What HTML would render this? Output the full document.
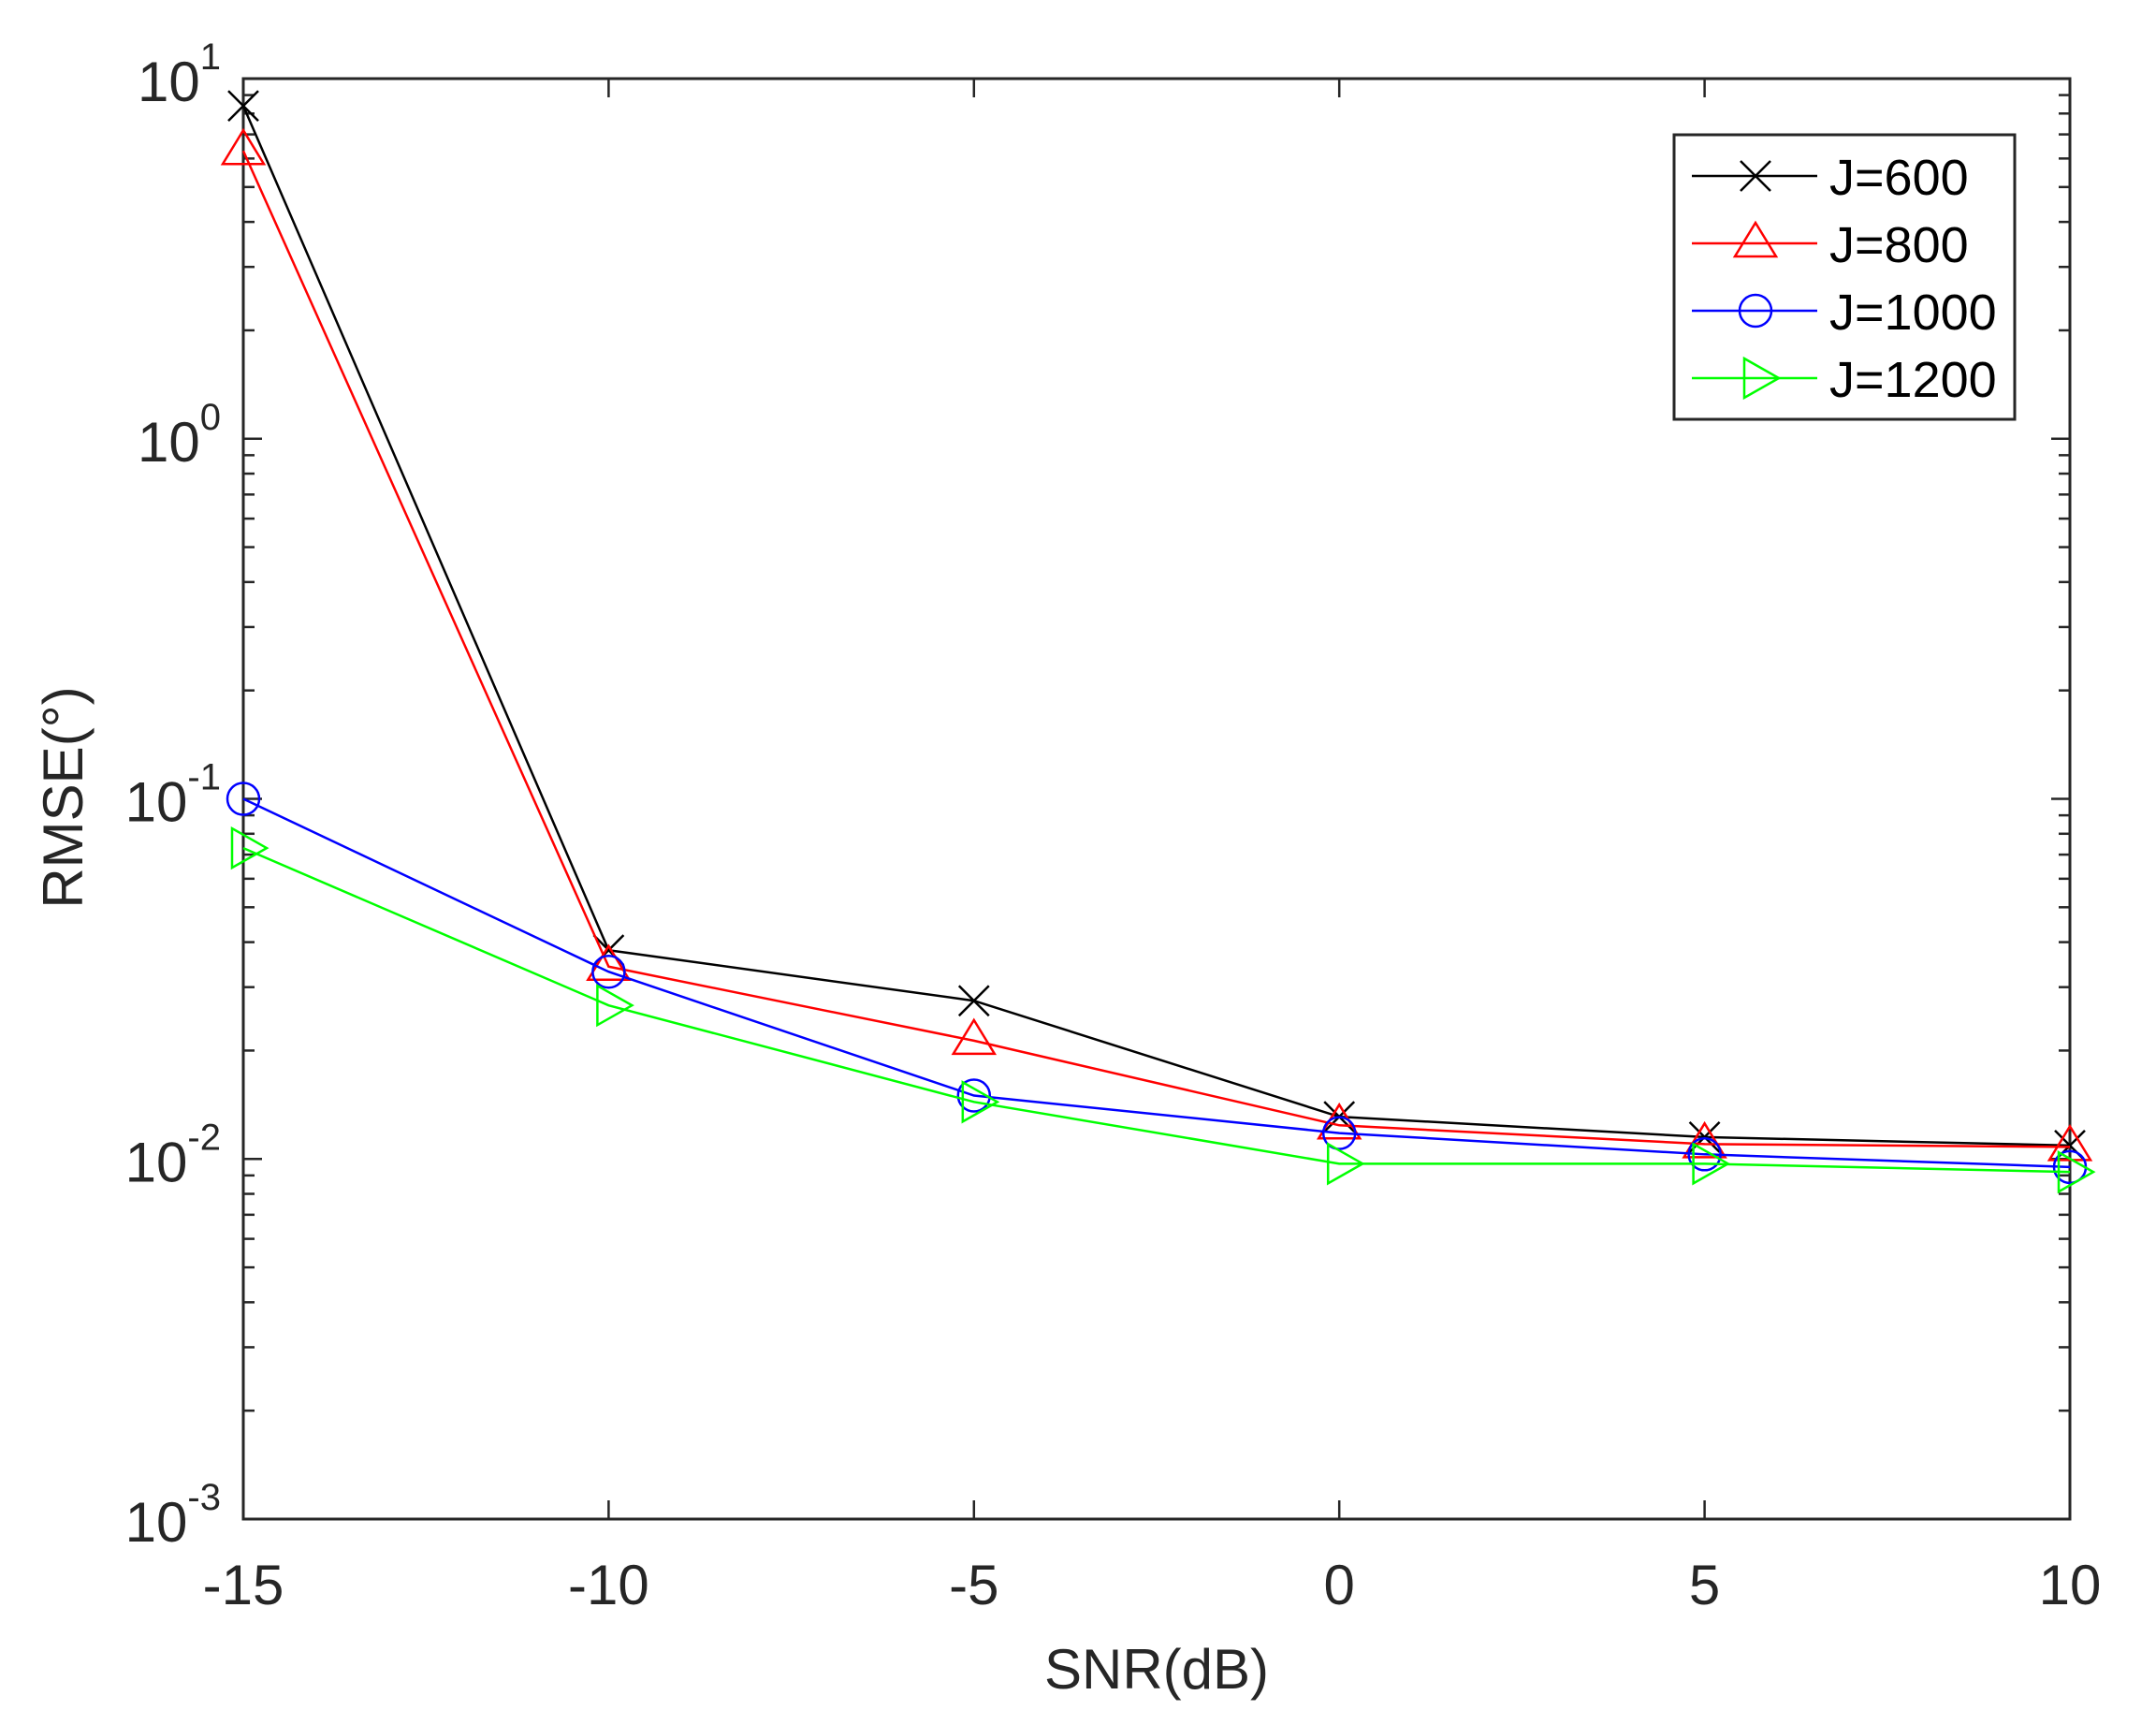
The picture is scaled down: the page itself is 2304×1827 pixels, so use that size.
<!DOCTYPE html>
<html><head><meta charset="utf-8"><style>
html,body{margin:0;padding:0;background:#fff;}
svg{display:block;font-family:"Liberation Sans",Arial,sans-serif;}
</style></head><body>
<svg id="chart" width="2304" height="1827" viewBox="0 0 2304 1827">
<rect width="2304" height="1827" fill="#fff"/>
<g id="axes"></g><g id="series"></g><g id="legend"></g>
</svg>
<script>
const categories = [-15, -10, -5, 0, 5, 10];
const seriesNames = ["J=600", "J=800", "J=1000", "J=1200"];
const j600 = [8.4, 0.038, 0.0275, 0.0131, 0.0115, 0.0109];
const j800 = [6.3, 0.0342, 0.0213, 0.0124, 0.011, 0.0108];
const j1000 = [0.1, 0.0331, 0.015, 0.0118, 0.0103, 0.0095];
const j1200 = [0.073, 0.0267, 0.0144, 0.0097, 0.0097, 0.0092];
const xTicks = [-15, -10, -5, 0, 5, 10];
const yTickExps = [1, 0, -1, -2, -3];

const NS = "http://www.w3.org/2000/svg";
const L = 260, R = 2212, T = 84, B = 1623;
const xMin = -15, xMax = 10, yMinE = -3, yMaxE = 1;
function xs(v){ return L + (v - xMin) / (xMax - xMin) * (R - L); }
function ys(v){ return T + (yMaxE - Math.log10(v)) / (yMaxE - yMinE) * (B - T); }
function el(tag, attrs, parent){ const e = document.createElementNS(NS, tag); for (const k in attrs) e.setAttribute(k, attrs[k]); parent.appendChild(e); return e; }
const axes = document.getElementById("axes");
const AX = "#262626";
for (let e = yMinE; e < yMaxE; e++) {
  for (let m = 2; m <= 9; m++) {
    const y = ys(m * Math.pow(10, e));
    const t1 = el("line", {x1: L, x2: L + 12, y1: y, y2: y, stroke: AX, "stroke-width": 2.5}, axes);
    
    
    const t2 = el("line", {x1: R, x2: R - 12, y1: y, y2: y, stroke: AX, "stroke-width": 2.5}, axes);
    
    
  }
}
yTickExps.forEach(e => {
  const y = ys(Math.pow(10, e));
  const t1 = el("line", {x1: L, x2: L + 20, y1: y, y2: y, stroke: AX, "stroke-width": 2.5}, axes);
  
  
  const t2 = el("line", {x1: R, x2: R - 20, y1: y, y2: y, stroke: AX, "stroke-width": 2.5}, axes);
  
  
  const tx = el("text", {x: 236, y: y + 24, "text-anchor": "end", "font-size": 60, fill: AX}, axes);
  
  
  const base = document.createElementNS(NS, "tspan"); base.textContent = "10"; tx.appendChild(base);
  const sup = document.createElementNS(NS, "tspan"); sup.setAttribute("dy", -34); sup.setAttribute("font-size", 40); sup.textContent = String(e); tx.appendChild(sup);
});
xTicks.forEach(v => {
  const x = xs(v);
  const t1 = el("line", {x1: x, x2: x, y1: B, y2: B - 20, stroke: AX, "stroke-width": 2.5}, axes);
  
  
  const t2 = el("line", {x1: x, x2: x, y1: T, y2: T + 20, stroke: AX, "stroke-width": 2.5}, axes);
  
  
  const tx = el("text", {x: x, y: 1714, "text-anchor": "middle", "font-size": 60, fill: AX}, axes);
  
  
  tx.textContent = String(v);
});
const frame = el("rect", {x: L, y: T, width: R - L, height: B - T, fill: "none", stroke: AX, "stroke-width": 3}, axes);


const xl = el("text", {x: (L + R) / 2, y: 1804, "text-anchor": "middle", "font-size": 60, fill: AX}, axes);


xl.textContent = "SNR(dB)";
const yl = el("text", {x: 0, y: 0, "text-anchor": "middle", "font-size": 60, fill: AX, transform: "translate(88,852) rotate(-90)"}, axes);


yl.textContent = "RMSE(°)";

function marker(type, x, y, color, parent){
  let m;
  if (type === "x") m = el("path", {d: `M${x-16},${y-16}L${x+16},${y+16}M${x-16},${y+16}L${x+16},${y-16}`, stroke: color, "stroke-width": 2.5, fill: "none"}, parent);
  else if (type === "tri") m = el("path", {d: `M${x},${y-22}L${x+22},${y+14}L${x-22},${y+14}Z`, stroke: color, "stroke-width": 2.5, fill: "none"}, parent);
  else if (type === "circ") m = el("circle", {cx: x, cy: y, r: 17, stroke: color, "stroke-width": 2.5, fill: "none"}, parent);
  else m = el("path", {d: `M${x-12},${y-21}L${x+25},${y}L${x-12},${y+21}Z`, stroke: color, "stroke-width": 2.5, fill: "none"}, parent);
  return m;
}
const sdefs = [
  {vals: j600, color: "#000000", mk: "x"},
  {vals: j800, color: "#ff0000", mk: "tri"},
  {vals: j1000, color: "#0000ff", mk: "circ"},
  {vals: j1200, color: "#00ff00", mk: "rtri"}
];
const sg = document.getElementById("series");
sdefs.forEach((s, i) => {
  const g = el("g", {}, sg);
  
  
  const pts = s.vals.map((v, k) => xs(categories[k]) + "," + ys(v)).join(" ");
  const pl = el("polyline", {points: pts, fill: "none", stroke: s.color, "stroke-width": 2.5}, g);
  
  
  s.vals.forEach((v, k) => {
    const m = marker(s.mk, xs(categories[k]), ys(v), s.color, g);
    
    
  });
});
const lg = document.getElementById("legend");
const box = el("rect", {x: 1789, y: 144, width: 364, height: 304, fill: "#fff", stroke: AX, "stroke-width": 3}, lg);


sdefs.forEach((s, i) => {
  const y = 188 + i * 72;
  const g = el("g", {}, lg);
  
  
  el("line", {x1: 1808, x2: 1942, y1: y, y2: y, stroke: s.color, "stroke-width": 2.5}, g);
  marker(s.mk, 1876, y, s.color, g);
  const t = el("text", {x: 1955, y: y + 20, "font-size": 54, fill: "#000"}, g);
  
  
  t.textContent = seriesNames[i];
});
</script>
</body></html>
